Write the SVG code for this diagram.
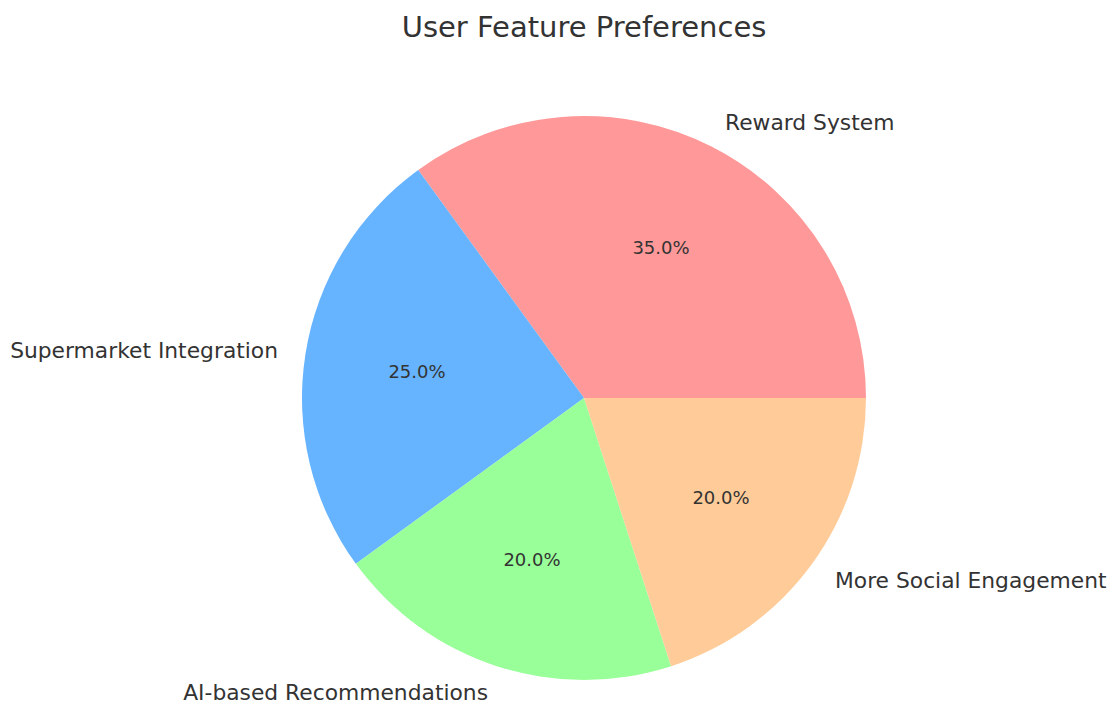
<svg xmlns="http://www.w3.org/2000/svg" width="1113" height="705" viewBox="0 0 1113 705">
<style>
text{font-family:"DejaVu Sans",sans-serif;fill:#333333}
.lab{font-size:21.8px;dominant-baseline:central}
.pct{font-size:18px;dominant-baseline:central;text-anchor:middle}
.title{font-size:29px;text-anchor:middle}
</style>
<rect width="1113" height="705" fill="#ffffff"/>
<text class="title" x="584" y="37">User Feature Preferences</text>
<g id="slice-reward">
<path d="M584,398 L866,398 A282,282 0 0 0 418.2,169.9 Z" fill="#ff9999"/>
<text class="pct" x="661" y="247">35.0%</text>
<text class="lab" x="725" y="122">Reward System</text>
</g>
<g id="slice-supermarket">
<path d="M584,398 L418.2,169.9 A282,282 0 0 0 355.9,563.8 Z" fill="#66b3ff"/>
<text class="pct" x="417" y="371">25.0%</text>
<text class="lab" x="278" y="350" text-anchor="end">Supermarket Integration</text>
</g>
<g id="slice-ai">
<path d="M584,398 L355.9,563.8 A282,282 0 0 0 671.1,666.2 Z" fill="#99ff99"/>
<text class="pct" x="532" y="559">20.0%</text>
<text class="lab" x="488" y="692" text-anchor="end">AI-based Recommendations</text>
</g>
<g id="slice-social">
<path d="M584,398 L671.1,666.2 A282,282 0 0 0 866,398 Z" fill="#ffcc99"/>
<text class="pct" x="721" y="497">20.0%</text>
<text class="lab" x="835" y="580">More Social Engagement</text>
</g>
<g id="connectors"></g>
</svg>
